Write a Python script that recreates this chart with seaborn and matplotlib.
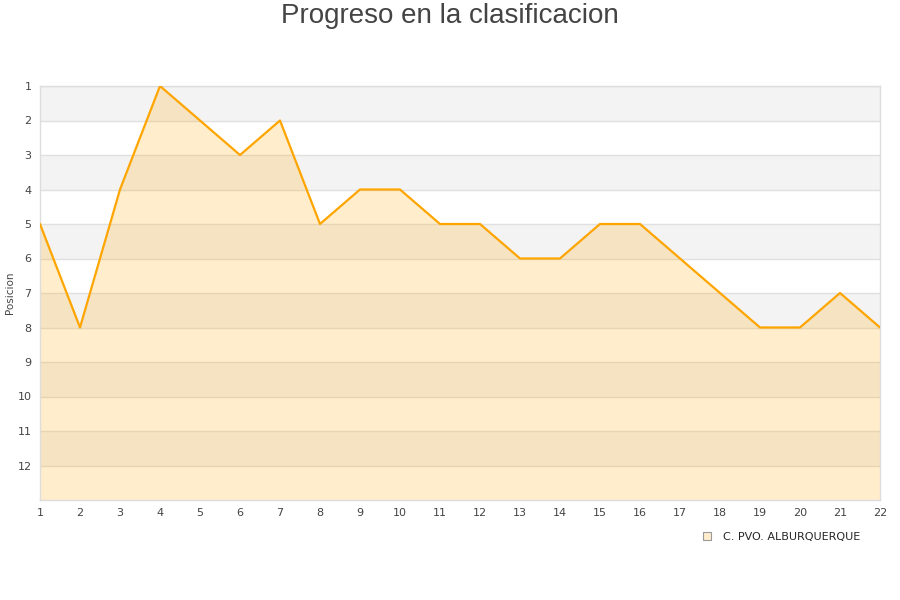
import numpy as np
import pandas as pd
import matplotlib
matplotlib.use('Agg')
import matplotlib.pyplot as plt
import seaborn as sns
from matplotlib.lines import Line2D

# jornadas and league position
jornadas = list(range(1, 23))
posicion = [5, 8, 4, 1, 2, 3, 2, 5, 4, 4, 5, 5, 6, 6, 5, 5, 6, 7, 8, 8, 7, 8]
equipo = 'C. PVO. ALBURQUERQUE'
y_ticks = list(range(1, 13))

df = pd.DataFrame({'Jornada': jornadas, 'Posicion': posicion})

sns.set_theme(style='white')
plt.rcParams['font.family'] = ['DejaVu Sans']

fig = plt.figure(figsize=(9, 6), dpi=100)
ax = fig.add_axes([40 / 900, 100 / 600, 840 / 900, 414 / 600])

# alternating bands
for k in range(1, 13, 2):
    ax.axhspan(k, k + 1, color='#f3f3f3', zorder=0, lw=0)
for k in y_ticks:
    ax.axhline(k, color='#e0e0e0', lw=1, zorder=1)

ax.fill_between(df['Jornada'], df['Posicion'], 13, color='#ffa500', alpha=0.2, lw=0, zorder=2)
sns.lineplot(data=df, x='Jornada', y='Posicion', color='#ffa500', lw=1.6, ax=ax, zorder=3)

ax.set_xlim(1, 22)
ax.set_ylim(13, 1)
ax.set_xticks(jornadas)
ax.set_yticks(y_ticks)
ax.tick_params(axis='both', labelsize=8, colors='#444444', length=0, pad=6)
ax.set_xlabel('')
ax.set_ylabel('')
fig.text(10 / 900, 1 - 293 / 600, 'Posicion', rotation=90, ha='center', va='center',
         fontsize=7.5, color='#444444')
for s in ax.spines.values():
    s.set_color('#dddddd')
    s.set_linewidth(1)

fig.text(0.5, 1 - 16 / 600, 'Progreso en la clasificacion', ha='center', va='center',
         fontsize=20, color='#444444', family=['Liberation Sans', 'DejaVu Sans'])

handle = Line2D([], [], marker='s', ls='', markersize=6, markerfacecolor='#ffedcc',
                markeredgecolor='#999999', markeredgewidth=0.8)
fig.legend([handle], [equipo], loc='center', bbox_to_anchor=(778 / 900, 1 - 537 / 600),
           frameon=False, fontsize=8, handletextpad=0.4)

fig.savefig('out.png', dpi=100)
